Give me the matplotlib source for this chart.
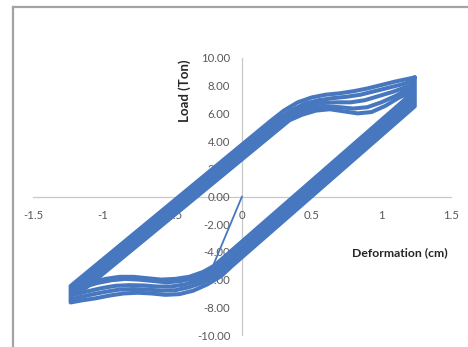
import numpy as np
import matplotlib
matplotlib.use('Agg')
import matplotlib.pyplot as plt
from matplotlib.lines import Line2D

# cyclic test: deformation (cm) vs load (ton)
# first push from zero
init_x = [0.00, -0.21]
init_y = [0.00, -5.05]

# loops, each one: peak -> unloading -> negative plateau -> reloading -> positive plateau -> peak
cyc_a_x = [1.24, 1.24, -0.07, -0.15, -0.25, -0.35, -0.45, -0.55, -0.65, -0.75, -0.85, -0.95, -1.05, -1.15, -1.23,
           -1.23, 0.20, 0.30, 0.40, 0.50, 0.60, 0.70, 0.80, 0.90, 1.00, 1.10, 1.24]
cyc_a_y = [8.60, 6.51, -5.00, -5.75, -6.35, -6.80, -7.05, -7.10, -7.00, -6.95, -7.00, -7.15, -7.35, -7.50, -7.65,
           -6.46, 5.41, 6.20, 6.80, 7.15, 7.35, 7.45, 7.60, 7.80, 8.05, 8.30, 8.60]

cyc_b_x = [1.23, 1.23, -0.10, -0.18, -0.28, -0.38, -0.48, -0.58, -0.68, -0.78, -0.88, -0.98, -1.08, -1.22,
           -1.22, 0.25, 0.35, 0.45, 0.55, 0.65, 0.75, 0.85, 0.95, 1.05, 1.15, 1.23]
cyc_b_y = [8.35, 6.70, -5.00, -5.65, -6.20, -6.55, -6.77, -6.80, -6.72, -6.68, -6.72, -6.88, -7.08, -7.40,
           -6.68, 5.52, 6.20, 6.70, 6.95, 7.10, 7.20, 7.35, 7.60, 7.85, 8.10, 8.35]

cyc_c_x = [1.22, 1.22, -0.13, -0.21, -0.31, -0.41, -0.51, -0.61, -0.71, -0.81, -0.91, -1.01, -1.11, -1.21,
           -1.21, 0.28, 0.38, 0.48, 0.58, 0.68, 0.78, 0.88, 0.98, 1.08, 1.22]
cyc_c_y = [8.05, 6.90, -5.00, -5.60, -6.05, -6.35, -6.50, -6.50, -6.42, -6.40, -6.45, -6.62, -6.85, -7.10,
           -6.84, 5.52, 6.15, 6.55, 6.75, 6.80, 6.80, 6.95, 7.25, 7.55, 8.05]

cyc_d_x = [1.20, 1.20, -0.16, -0.24, -0.34, -0.44, -0.54, -0.64, -0.74, -0.84, -0.94, -1.04, -1.19,
           -1.19, 0.31, 0.40, 0.50, 0.60, 0.70, 0.80, 0.90, 1.00, 1.10, 1.20]
cyc_d_y = [7.80, 7.00, -5.00, -5.50, -5.90, -6.10, -6.20, -6.10, -6.00, -5.95, -6.05, -6.25, -6.70,
           -6.93, 5.52, 6.00, 6.35, 6.50, 6.45, 6.35, 6.45, 6.80, 7.25, 7.80]

cyc_e_x = [1.18, 1.18, -0.20, -0.28, -0.38, -0.48, -0.58, -0.68, -0.78, -0.88, -0.98, -1.17,
           -1.17, 0.34, 0.43, 0.53, 0.63, 0.73, 0.83, 0.93, 1.03, 1.12, 1.18]
cyc_e_y = [7.40, 7.10, -5.00, -5.45, -5.80, -5.95, -6.00, -5.90, -5.80, -5.80, -5.95, -6.45,
           -7.01, 5.50, 5.90, 6.20, 6.30, 6.15, 6.00, 6.10, 6.55, 7.10, 7.40]

x_ticks = [-1.5, -1, -0.5, 0, 0.5, 1, 1.5]
y_ticks = [-10, -8, -6, -4, -2, 0, 2, 4, 6, 8, 10]

blue = '#4677bf'
grey_txt = '#595959'

fig = plt.figure(figsize=(4.68, 3.47), dpi=100)
ax = fig.add_axes([33 / 468, 12 / 347, 418 / 468, 277 / 347])

loops = [(cyc_a_x, cyc_a_y), (cyc_b_x, cyc_b_y), (cyc_c_x, cyc_c_y),
         (cyc_d_x, cyc_d_y), (cyc_e_x, cyc_e_y)]
for cx, cy in loops:
    ax.plot(cx, cy, color=blue, lw=2.9, solid_joinstyle='round', solid_capstyle='round')
ax.plot(init_x, init_y, color=blue, lw=1.3, solid_capstyle='round')

ax.set_xlim(-1.5, 1.5)
ax.set_ylim(-10, 10)

# axes through the origin
for s in ['top', 'right']:
    ax.spines[s].set_visible(False)
ax.spines['left'].set_position('zero')
ax.spines['bottom'].set_position('zero')
for s in ['left', 'bottom']:
    ax.spines[s].set_color('#c8c8c8')
    ax.spines[s].set_linewidth(0.9)
    ax.spines[s].set_zorder(0)

ax.set_xticks(x_ticks)
ax.set_xticklabels([('%g' % v) for v in x_ticks])
ax.set_yticks(y_ticks)
ax.set_yticklabels(['%.2f' % v for v in y_ticks])
ax.tick_params(axis='x', length=0, pad=9.5, labelsize=8.2, labelcolor=grey_txt)
ax.tick_params(axis='y', length=0, pad=8.5, labelsize=8.2, labelcolor=grey_txt)
for lab in ax.get_xticklabels() + ax.get_yticklabels():
    lab.set_fontfamily('Lato')
ax.patch.set_visible(False)

fig.text(400 / 468, 1 - 253 / 347, 'Deformation (cm)', ha='center', va='center',
         fontsize=8.8, fontweight='bold', family='Lato', color='#262626')
fig.text(185 / 468, 1 - 91 / 347, 'Load (Ton)', ha='center', va='center', rotation=90,
         fontsize=9.5, fontweight='bold', family='Lato', color='#262626')

# chart frame (only left and top edges are inside the image)
fx = 12.5 / 468
fy = 1 - 7 / 347
fig.add_artist(Line2D([fx, fx], [0, fy], transform=fig.transFigure, color='#a3a3a3', lw=1.6))
fig.add_artist(Line2D([fx, 1], [fy, fy], transform=fig.transFigure, color='#a3a3a3', lw=1.6))

fig.savefig('out.png', dpi=100)
